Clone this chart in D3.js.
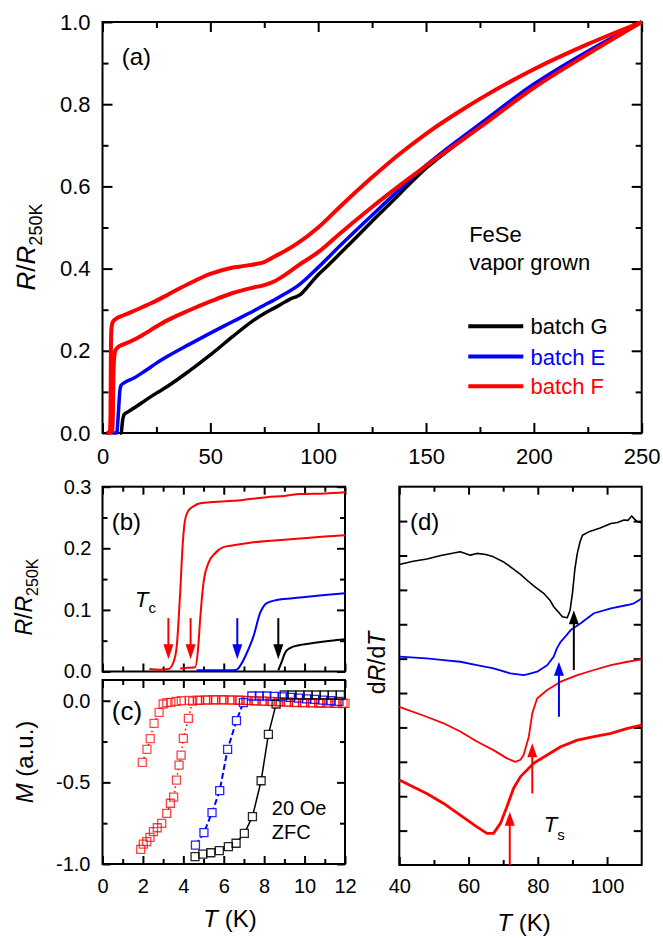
<!DOCTYPE html>
<html>
<head>
<meta charset="utf-8">
<script src="https://cdn.jsdelivr.net/npm/d3@7"></script>
<style>
  html, body { margin: 0; padding: 0; background: #fff; }
  svg { display: block; font-family: "Liberation Sans", Arial, Helvetica, sans-serif; }
</style>
</head>
<body>
<svg id="fig" width="663" height="938"></svg>
<script>
// ---------------- data ----------------
// (a) R/R250K vs T (K), full range
const aG_T  = [8.0, 8.7, 9.0, 9.3, 9.7, 10, 12, 15, 20, 25, 30, 40, 50, 60, 70, 75, 80, 85, 88, 90, 92, 95, 100, 105, 110, 125, 138, 150, 166, 175, 200, 225, 250];
const aG_R  = [0, 0, 0.015, 0.03, 0.04, 0.045, 0.052, 0.062, 0.08, 0.097, 0.113, 0.15, 0.19, 0.233, 0.274, 0.291, 0.305, 0.32, 0.328, 0.332, 0.338, 0.355, 0.385, 0.41, 0.436, 0.515, 0.583, 0.644, 0.71, 0.745, 0.841, 0.923, 1.0];
const aE_T  = [4.6, 6.6, 7.0, 7.5, 8.0, 8.6, 10, 15, 20, 25, 30, 40, 50, 60, 70, 75, 80, 85, 90, 100, 110, 125, 138, 150, 166, 175, 200, 225, 250];
const aE_R  = [0, 0, 0.02, 0.06, 0.1, 0.116, 0.122, 0.135, 0.152, 0.17, 0.186, 0.215, 0.243, 0.27, 0.297, 0.311, 0.325, 0.34, 0.356, 0.403, 0.455, 0.53, 0.594, 0.651, 0.717, 0.752, 0.849, 0.929, 1.0];
const aF1_T = [2.0, 3.4, 3.7, 3.9, 4.1, 4.5, 5, 6, 10, 15, 20, 25, 30, 40, 50, 60, 65, 70, 75, 80, 85, 90, 100, 110, 125, 138, 150, 166, 175, 200, 225, 250];
const aF1_R = [0, 0, 0.04, 0.2, 0.25, 0.266, 0.272, 0.277, 0.287, 0.298, 0.31, 0.322, 0.336, 0.363, 0.387, 0.402, 0.406, 0.41, 0.416, 0.43, 0.444, 0.46, 0.50, 0.55, 0.622, 0.68, 0.728, 0.784, 0.813, 0.885, 0.946, 1.0];
const aF2_T = [2.0, 4.6, 4.8, 5.0, 5.3, 5.8, 6.5, 8, 10, 15, 20, 25, 30, 40, 50, 60, 70, 75, 80, 85, 90, 100, 110, 125, 138, 150, 166, 175, 200, 225, 250];
const aF2_R = [0, 0.005, 0.04, 0.12, 0.176, 0.198, 0.205, 0.212, 0.216, 0.228, 0.243, 0.259, 0.274, 0.298, 0.32, 0.34, 0.354, 0.36, 0.37, 0.386, 0.405, 0.44, 0.485, 0.55, 0.603, 0.65, 0.71, 0.744, 0.84, 0.922, 1.0];
const legendNames = ["batch G", "batch E", "batch F"];

// (b) R/R250K near the superconducting transition
const bF1_T = [2.32, 2.8, 3.26, 3.51, 3.67, 3.84, 3.97, 4.08, 4.25, 4.5, 4.83, 5.5, 6.48, 7.3, 8.13, 9.0, 9.78, 11.0, 12.0];
const bF1_R = [0.004, 0.003, 0.004, 0.015, 0.04, 0.126, 0.207, 0.245, 0.261, 0.268, 0.273, 0.275, 0.277, 0.28, 0.283, 0.285, 0.288, 0.289, 0.291];
const bF2_T = [3.84, 4.2, 4.58, 4.74, 4.83, 4.91, 5.02, 5.24, 5.57, 5.98, 6.48, 7.3, 8.13, 9.0, 9.78, 11.0, 12.0];
const bF2_R = [0.005, 0.006, 0.007, 0.041, 0.084, 0.116, 0.149, 0.176, 0.192, 0.202, 0.205, 0.209, 0.212, 0.214, 0.216, 0.219, 0.221];
const bE_T  = [4.66, 5.5, 6.3, 6.64, 6.9, 7.14, 7.47, 7.8, 8.13, 8.62, 9.78, 11.0, 12.0];
const bE_R  = [0.002, 0.002, 0.002, 0.003, 0.014, 0.03, 0.057, 0.095, 0.111, 0.116, 0.12, 0.124, 0.127];
const bG_T  = [8.7, 8.87, 9.03, 9.28, 9.78, 10.6, 11.3, 12.0];
const bG_R  = [0.002, 0.016, 0.03, 0.038, 0.043, 0.047, 0.05, 0.0525];
// Tc markers: temperature, arrow tail and tip (R/R250K)
const tcT = [3.26, 4.36, 6.67, 8.70];
const tcFrom = 0.0866, tcTo = 0.02;

// (c) ZFC magnetization, 20 Oe
const cF1_T = [1.97, 2.2, 2.36, 2.55, 2.8, 3.0, 3.18, 3.38, 3.64, 3.9, 4.3, 4.7, 5.1, 5.5, 5.9, 6.3, 6.7, 7.1, 7.5, 7.9, 8.3, 8.7, 9.1, 9.5, 9.9, 10.3, 10.7, 11.1, 11.5, 11.9];
const cF1_M = [-0.377, -0.298, -0.232, -0.139, -0.071, -0.02, -0.012, -0.01, -0.004, 0.0, 0.002, 0.004, 0.005, 0.006, 0.006, 0.005, 0.004, 0.002, 0.0, -0.002, -0.004, -0.006, -0.008, -0.01, -0.012, -0.013, -0.014, -0.015, -0.016, -0.017];
const cF2_T = [1.89, 2.02, 2.19, 2.35, 2.52, 2.71, 2.93, 3.18, 3.36, 3.52, 3.66, 3.79, 3.89, 4.0, 4.25, 4.46, 4.8, 5.2, 5.6, 6.0, 6.4, 6.8, 7.2, 7.6, 8.0, 8.4, 8.8, 9.2, 9.6, 10.0, 10.4, 10.8, 11.2, 11.6, 12.0];
const cF2_M = [-0.91, -0.878, -0.863, -0.837, -0.802, -0.778, -0.751, -0.69, -0.628, -0.59, -0.486, -0.394, -0.333, -0.23, -0.108, -0.002, 0.002, 0.004, 0.005, 0.005, 0.004, 0.003, 0.001, -0.001, -0.003, -0.005, -0.007, -0.009, -0.011, -0.012, -0.013, -0.014, -0.015, -0.016, -0.016];
const cE_T  = [4.6, 5.02, 5.42, 5.8, 6.19, 6.63, 6.97, 7.39, 7.76, 8.13, 8.5, 8.9, 9.3, 9.7, 10.1, 10.5, 10.9, 11.3, 11.7];
const cE_M  = [-0.884, -0.808, -0.685, -0.55, -0.298, -0.122, -0.012, 0.029, 0.029, 0.029, 0.027, 0.024, 0.02, 0.016, 0.012, 0.008, 0.004, 0.0, -0.004];
const cG_T  = [4.58, 4.96, 5.36, 5.78, 6.23, 6.61, 7.02, 7.42, 7.85, 8.21, 8.59, 8.99, 9.37, 9.77, 10.17, 10.57, 10.97, 11.37, 11.77];
const cG_M  = [-0.955, -0.939, -0.931, -0.918, -0.894, -0.873, -0.812, -0.71, -0.49, -0.206, -0.02, 0.035, 0.035, 0.035, 0.035, 0.035, 0.035, 0.035, 0.035];

// (d) dR/dT (arbitrary units, curves offset)
const dG_T  = [40, 44, 48, 52, 57.6, 60.5, 62.4, 65, 67.2, 70, 72.1, 75, 76.9, 79, 81.7, 83.5, 84.6, 86, 87.1, 88.5, 89.3, 90, 90.7, 91.4, 92.2, 92.9, 95, 98, 101.1, 103, 104.9, 106, 107.1, 108, 108.8, 110];
const dG_V  = [8.74, 8.83, 8.9, 9.0, 9.11, 9.01, 9.06, 9.03, 8.96, 8.82, 8.67, 8.45, 8.28, 8.1, 7.9, 7.7, 7.51, 7.35, 7.22, 7.19, 7.4, 7.9, 8.6, 9.06, 9.4, 9.59, 9.7, 9.8, 9.93, 9.96, 10.03, 10.02, 10.15, 10.05, 9.98, 9.95];
const dE_T  = [40, 47.9, 52.8, 57.6, 62.4, 67.2, 72.1, 75.9, 77.5, 79.8, 82.7, 84.6, 85.5, 86.6, 88, 89.5, 92.4, 96.2, 101.1, 105.9, 107.8, 110];
const dE_V  = [6.06, 6.01, 5.96, 5.91, 5.81, 5.72, 5.57, 5.52, 5.56, 5.62, 5.81, 6.06, 6.3, 6.49, 6.65, 6.83, 7.03, 7.32, 7.46, 7.56, 7.61, 7.75];
const dF1_T = [40, 47.9, 52.8, 57.6, 62.4, 67.2, 71.1, 73.5, 75.0, 75.9, 77.4, 78.4, 79.8, 82.7, 86.6, 91.4, 96.2, 101.1, 105.9, 110];
const dF1_V = [4.6, 4.31, 4.12, 3.88, 3.59, 3.34, 3.1, 3.0, 3.06, 3.2, 3.73, 4.41, 4.84, 5.09, 5.33, 5.52, 5.67, 5.81, 5.91, 5.98];
const dF2_T = [40, 47.9, 52.8, 57.6, 62.4, 65.3, 67.2, 69.2, 71.1, 73, 75, 78.8, 82.7, 86.6, 91.4, 96.2, 101.1, 105.9, 110];
const dF2_V = [2.47, 2.08, 1.79, 1.45, 1.11, 0.92, 0.92, 1.21, 1.7, 2.23, 2.57, 2.96, 3.2, 3.44, 3.63, 3.73, 3.83, 3.97, 4.07];
// Ts markers: temperature, arrow tail and tip
const tsT    = [90.4, 86.1, 78.4, 71.9];
const tsFrom = [5.67, 4.31, 2.08, 0];
const tsTo   = [7.41, 5.91, 3.54, 1.55];

// ---------------- styling ----------------
const RED = "#ff0000", BLUE = "#0000ff", BLACK = "#000000";
const svg = d3.select("#fig");
const zip = (xs, ys) => xs.map((x, i) => [x, ys[i]]);
const fmt1 = d => d.toFixed(1);
const fmt0 = d => String(d);

// scales
const xA = d3.scaleLinear().domain([0, 250]).range([102.5, 641.7]);
const yA = d3.scaleLinear().domain([0, 1]).range([433, 22]);
const xB = d3.scaleLinear().domain([0, 12]).range([102.5, 345]);
const yB = d3.scaleLinear().domain([0, 0.3]).range([671.5, 486.7]);
const yC = d3.scaleLinear().domain([-1, 0.127]).range([864, 680]);
const xD = d3.scaleLinear().domain([40, 110]).range([399.3, 641.7]);
const yD = d3.scaleLinear().domain([0, 11]).range([865, 486.7]);

function axisSide(axisFn, scale, tr, vals, len, fmt, pad, fs) {
  const g = svg.append("g").attr("transform", tr);
  g.call(axisFn(scale).tickValues(vals).tickSizeInner(-len).tickSizeOuter(0)
    .tickPadding(pad).tickFormat(fmt || (() => "")));
  g.attr("font-family", null).attr("font-size", fs);
  g.select(".domain").remove();
  g.selectAll(".tick line").attr("stroke", BLACK).attr("stroke-width", 2);
  g.selectAll(".tick text").attr("fill", BLACK);
}

function frame(x, y, o) {
  const [xl, xr] = x.range(), [yb, yt] = y.range();
  [[d3.axisBottom, `translate(0,${yb})`, x, o.xFmt, o.xPad],
   [d3.axisTop, `translate(0,${yt})`, x, null, 0]].forEach(([fn, tr, s, f, p]) => {
    axisSide(fn, s, tr, o.xMajor, o.major, f, p, o.fs);
    if (o.xMinor) axisSide(fn, s, tr, o.xMinor, o.minor, null, 0, o.fs);
  });
  [[d3.axisLeft, `translate(${xl},0)`, y, o.yFmt, o.yPad],
   [d3.axisRight, `translate(${xr},0)`, y, null, 0]].forEach(([fn, tr, s, f, p]) => {
    axisSide(fn, s, tr, o.yMajor, o.majorY || o.major, f, p, o.fs);
    if (o.yMinor) axisSide(fn, s, tr, o.yMinor, o.minor, null, 0, o.fs);
  });
  svg.append("rect").attr("x", xl).attr("y", yt).attr("width", xr - xl).attr("height", yb - yt)
    .attr("fill", "none").attr("stroke", BLACK).attr("stroke-width", 2);
}

function curve(x, y, pts, color, width, cv) {
  svg.append("path").datum(pts)
    .attr("d", d3.line().x(d => x(d[0])).y(d => y(d[1])).curve(cv || d3.curveMonotoneX))
    .attr("fill", "none").attr("stroke", color).attr("stroke-width", width)
    .attr("stroke-linejoin", "round").attr("stroke-linecap", "butt");
}

function arrow(px, yTail, yTip, color, headLen, headW, w) {
  const dir = Math.sign(yTip - yTail);
  svg.append("line").attr("x1", px).attr("x2", px).attr("y1", yTail).attr("y2", yTip - dir * headLen * 0.8)
    .attr("stroke", color).attr("stroke-width", w);
  svg.append("path")
    .attr("d", `M${px},${yTip} L${px - headW / 2},${yTip - dir * headLen} L${px + headW / 2},${yTip - dir * headLen} Z`)
    .attr("fill", color);
}

function richText(x, y, parts, o) {
  const t = svg.append("text").attr("font-size", o.fs).attr("fill", o.color || BLACK)
    .attr("text-anchor", o.anchor || "start");
  if (o.rotate) t.attr("transform", `translate(${x},${y}) rotate(-90)`);
  else t.attr("x", x).attr("y", y);
  parts.forEach(p => {
    const s = t.append("tspan").text(p.t);
    if (p.i) s.attr("font-style", "italic");
    if (p.fs) s.attr("font-size", p.fs);
    if (p.dy) s.attr("dy", p.dy);
  });
  return t;
}

// ---------------- panel (a) ----------------
frame(xA, yA, {
  xMajor: [0, 50, 100, 150, 200, 250], xMinor: [25, 75, 125, 175, 225],
  yMajor: [0, 0.2, 0.4, 0.6, 0.8, 1.0], yMinor: [0.1, 0.3, 0.5, 0.7, 0.9],
  major: 10, minor: 6, fs: 22, xFmt: fmt0, yFmt: fmt1, xPad: 15, yPad: 12
});
curve(xA, yA, zip(aG_T, aG_R), BLACK, 3.5);
curve(xA, yA, zip(aE_T, aE_R), BLUE, 3.5);
curve(xA, yA, zip(aF2_T, aF2_R), RED, 4);
curve(xA, yA, zip(aF1_T, aF1_R), RED, 4);

richText(xA(8.9), yA(0.895), [{t: "(a)"}], {fs: 24});
richText(xA(170), yA(0.465), [{t: "FeSe"}], {fs: 22});
richText(xA(170), yA(0.397), [{t: "vapor grown"}], {fs: 22});
const legendColors = [BLACK, BLUE, RED];
const legendY = [0.26, 0.186, 0.114];
legendNames.forEach((name, i) => {
  svg.append("line").attr("x1", xA(169.6)).attr("x2", xA(195.1))
    .attr("y1", yA(legendY[i])).attr("y2", yA(legendY[i]))
    .attr("stroke", legendColors[i]).attr("stroke-width", 4);
  richText(xA(198.5), yA(legendY[i]) + 8, [{t: name}], {fs: 22, color: legendColors[i]});
});
richText(35, 247, [{t: "R", i: 1}, {t: "/"}, {t: "R", i: 1}, {t: "250K", fs: 18, dy: 7}], {fs: 26, anchor: "middle", rotate: 1});

// ---------------- panel (b) ----------------
frame(xB, yB, {
  xMajor: [0, 2, 4, 6, 8, 10, 12], xMinor: [1, 3, 5, 7, 9, 11],
  yMajor: [0, 0.1, 0.2, 0.3], yMinor: [0.05, 0.15, 0.25],
  major: 8, minor: 5, fs: 20, xFmt: null, yFmt: fmt1, xPad: 0, yPad: 11
});
curve(xB, yB, zip(bG_T, bG_R), BLACK, 2);
curve(xB, yB, zip(bE_T, bE_R), BLUE, 2);
curve(xB, yB, zip(bF2_T, bF2_R), RED, 2);
curve(xB, yB, zip(bF1_T, bF1_R), RED, 2);
const tcColors = [RED, RED, BLUE, BLACK];
tcT.forEach((t, i) => arrow(xB(t), yB(tcFrom), yB(tcTo), tcColors[i], 15, 10, 2));
richText(xB(0.46), yB(0.23), [{t: "(b)"}], {fs: 24});
richText(xB(1.61), yB(0.105), [{t: "T", i: 1}, {t: "c", fs: 15, dy: 6}], {fs: 22});
richText(32, 597, [{t: "R", i: 1}, {t: "/"}, {t: "R", i: 1}, {t: "250K", fs: 16, dy: 6}], {fs: 23, anchor: "middle", rotate: 1});

// ---------------- panel (c) ----------------
frame(xB, yC, {
  xMajor: [0, 2, 4, 6, 8, 10, 12], xMinor: [1, 3, 5, 7, 9, 11],
  yMajor: [-1, -0.5, 0], yMinor: [-0.75, -0.25],
  major: 8, minor: 5, fs: 20, xFmt: fmt0, yFmt: fmt1, xPad: 15, yPad: 12
});
const cSeries = [
  {pts: zip(cF1_T, cF1_M), color: RED,   op: 0.7, dash: "1.5,3", w: 1.5},
  {pts: zip(cF2_T, cF2_M), color: RED,   op: 0.75, dash: "1.5,3", w: 1.5},
  {pts: zip(cE_T, cE_M),   color: BLUE,  op: 0.85, dash: "6,3", w: 2},
  {pts: zip(cG_T, cG_M),   color: BLACK, op: 0.85, dash: null, w: 1.5}
];
cSeries.forEach(s => {
  svg.append("path").datum(s.pts)
    .attr("d", d3.line().x(d => xB(d[0])).y(d => yC(d[1])))
    .attr("fill", "none").attr("stroke", s.color).attr("stroke-width", s.w)
    .attr("stroke-dasharray", s.dash);
});
const sq = d3.symbol(d3.symbolSquare, 64);
cSeries.forEach(s => {
  svg.append("g").selectAll("path").data(s.pts).join("path")
    .attr("d", sq).attr("transform", d => `translate(${xB(d[0])},${yC(d[1])})`)
    .attr("fill", "#fff").attr("stroke", "none");
});
cSeries.forEach(s => {
  svg.append("g").selectAll("path").data(s.pts).join("path")
    .attr("d", sq).attr("transform", d => `translate(${xB(d[0])},${yC(d[1])})`)
    .attr("fill", "none").attr("stroke", s.color).attr("stroke-opacity", s.op).attr("stroke-width", 1.3);
});
richText(xB(0.46), yC(-0.118), [{t: "(c)"}], {fs: 26});
richText(xB(8.38), yC(-0.70), [{t: "20 Oe"}], {fs: 20});
richText(xB(8.38), yC(-0.849), [{t: "ZFC"}], {fs: 20});
richText(33, 762, [{t: "M", i: 1}, {t: " (a.u.)"}], {fs: 24, anchor: "middle", rotate: 1});
richText(230, 927, [{t: "T", i: 1}, {t: " (K)"}], {fs: 24, anchor: "middle"});

// ---------------- panel (d) ----------------
frame(xD, yD, {
  xMajor: [40, 60, 80, 100], xMinor: [50, 70, 90],
  yMajor: [1, 2, 3, 4, 5, 6, 7, 8, 9, 10], yMinor: null,
  major: 8, majorY: 8, minor: 5, fs: 20, xFmt: fmt0, yFmt: null, xPad: 14, yPad: 0
});
curve(xD, yD, zip(dG_T, dG_V), BLACK, 1.6, d3.curveLinear);
curve(xD, yD, zip(dE_T, dE_V), BLUE, 1.8, d3.curveLinear);
curve(xD, yD, zip(dF1_T, dF1_V), RED, 1.8, d3.curveLinear);
curve(xD, yD, zip(dF2_T, dF2_V), RED, 2.8, d3.curveLinear);
const tsColors = [BLACK, BLUE, RED, RED];
tsT.forEach((t, i) => arrow(xD(t), yD(tsFrom[i]), yD(tsTo[i]), tsColors[i], 14, 10, 2));
richText(xD(43.1), yD(9.74), [{t: "(d)"}], {fs: 24});
richText(xD(81.75), yD(0.97), [{t: "T", i: 1}, {t: "s", fs: 15, dy: 8}], {fs: 22});
richText(385, 663, [{t: "d"}, {t: "R", i: 1}, {t: "/d"}, {t: "T", i: 1}], {fs: 23, anchor: "middle", rotate: 1});
richText(524, 931, [{t: "T", i: 1}, {t: " (K)"}], {fs: 24, anchor: "middle"});
</script>
</body>
</html>
